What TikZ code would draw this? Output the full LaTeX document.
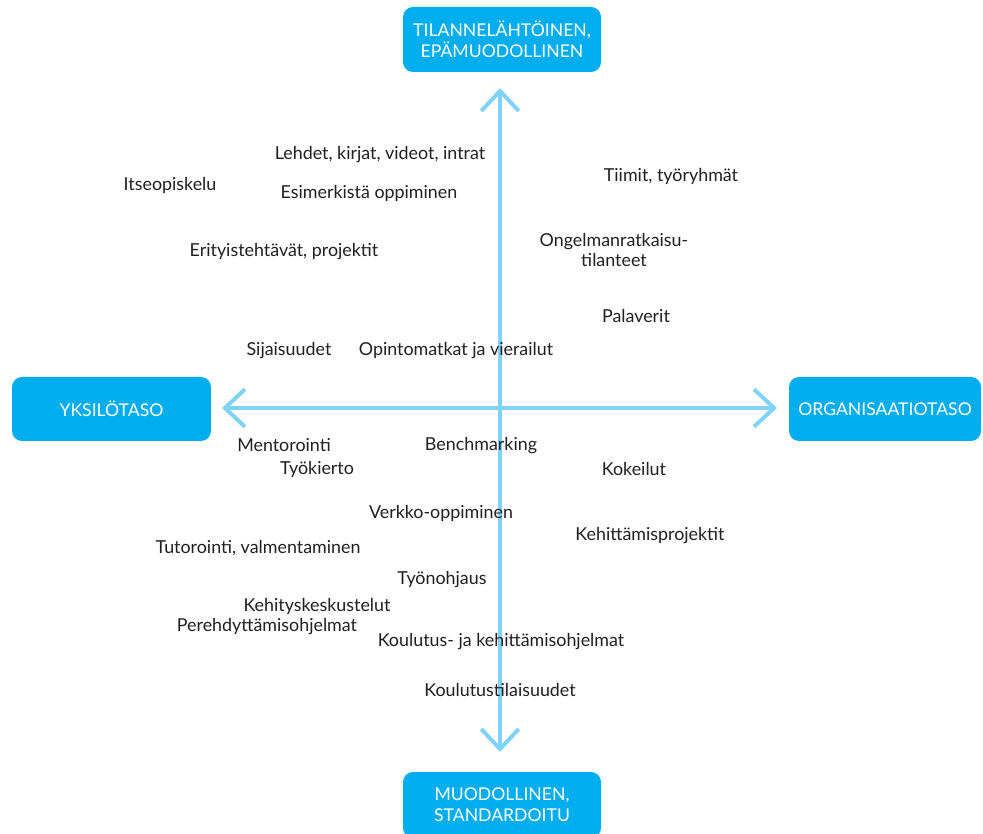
\documentclass[tikz,border=0pt]{standalone}
\usepackage{fontspec}
\setmainfont{Lato}
\usetikzlibrary{arrows.meta}
\definecolor{boxblue}{HTML}{00AEEF}
\definecolor{axisblue}{HTML}{80D2F6}
\definecolor{txt}{HTML}{231F20}
\begin{document}
\begin{tikzpicture}[x=0.75pt,y=-0.75pt,
  catbox/.style={fill=boxblue,draw=none,rounded corners=7.5pt,text=white,
    font=\fontsize{13.2}{16}\selectfont,align=center,inner sep=0pt},
  item/.style={text=txt,font=\fontsize{13.4}{14.5}\selectfont,align=center,inner sep=0pt},
  axis/.style={draw=axisblue,line width=3pt,
    {Straight Barb[length=15pt,width=28pt,line width=3pt]}-{Straight Barb[length=15pt,width=28pt,line width=3pt]}}]
\useasboundingbox (0,0) rectangle (983,834);
\clip (0,0) rectangle (983,834);
% category boxes
\node[catbox,minimum width=198*0.75pt,minimum height=65*0.75pt] (top) at (502,39.5) {TILANNELÄHTÖINEN,\\EPÄMUODOLLINEN};
\node[catbox,minimum width=199*0.75pt,minimum height=64*0.75pt] (left) at (111.5,409) {YKSILÖTASO};
\node[catbox,minimum width=192*0.75pt,minimum height=64*0.75pt] (right) at (885,409) {ORGANISAATIOTASO};
\node[catbox,minimum width=198*0.75pt,minimum height=66*0.75pt] (bottom) at (502,805) {MUODOLLINEN,\\STANDARDOITU};
% axes
\coordinate (vt) at (500,88);
\coordinate (vb) at (500,752);
\coordinate (hl) at (222,408);
\coordinate (hr) at (777,408);
\draw[axis] (vt) -- (vb);
\draw[axis] (hl) -- (hr);
% items
\node[item] (i1) at (380,155) {Lehdet, kirjat, videot, intrat};
\node[item] (i2) at (170,185) {Itseopiskelu};
\node[item] (i3) at (369,193) {Esimerkistä oppiminen};
\node[item] (i4) at (284,252) {Erityistehtävät, projektit};
\node[item] (i5) at (671,176) {Tiimit, työryhmät};
\node[item] (i6) at (614,250) {Ongelmanratkaisu-\\tilanteet};
\node[item] (i7) at (636,316) {Palaverit};
\node[item] (i8) at (289,351) {Sijaisuudet};
\node[item] (i9) at (456,351) {Opintomatkat ja vierailut};
\node[item] (i10) at (284,445) {Mentorointi};
\node[item] (i11) at (317,469) {Työkierto};
\node[item] (i12) at (481,446) {Benchmarking};
\node[item] (i13) at (634,469) {Kokeilut};
\node[item] (i14) at (441,513) {Verkko-oppiminen};
\node[item] (i15) at (650,536) {Kehittämisprojektit};
\node[item] (i16) at (258,548) {Tutorointi, valmentaminen};
\node[item] (i17) at (442,580) {Työnohjaus};
\node[item] (i18) at (317,606) {Kehityskeskustelut};
\node[item] (i19) at (267,627) {Perehdyttämisohjelmat};
\node[item] (i20) at (501,642) {Koulutus- ja kehittämisohjelmat};
\node[item] (i21) at (500,690) {Koulutustilaisuudet};
\end{tikzpicture}
\end{document}
